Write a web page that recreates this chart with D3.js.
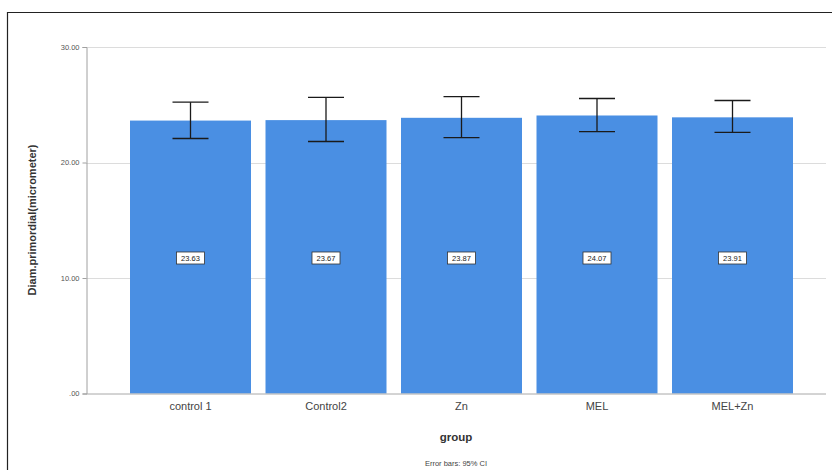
<!DOCTYPE html>
<html>
<head>
<meta charset="utf-8">
<script src="https://cdn.jsdelivr.net/npm/d3@7"></script>
<style>
  html, body { margin: 0; padding: 0; background: #fff; }
  svg { display: block; }
</style>
</head>
<body>
<svg id="chart" width="832" height="470"></svg>
<script>
// Group means of primordial follicle diameter with 95% CI error bars
const categories = ["control 1", "Control2", "Zn", "MEL", "MEL+Zn"];
const means      = [23.63, 23.67, 23.87, 24.07, 23.91];
const ciLower    = [22.08, 21.82, 22.16, 22.68, 22.60];
const ciUpper    = [25.22, 25.63, 25.70, 25.54, 25.37];
const yTicks     = [0, 10, 20, 30];
const yTickLabels = [".00", "10.00", "20.00", "30.00"];

const svg = d3.select("#chart");
const W = 832, H = 470;

// outer frame (left and top edges visible)
svg.append("path")
  .attr("d", "M7.5,470 L7.5,12.5 L832,12.5")
  .attr("fill", "none").attr("stroke", "#222").attr("stroke-width", 1.2);

const plotLeft = 86, plotRight = 826;
const y = d3.scaleLinear().domain([0, 30]).range([393.5, 47]);
const x = d3.scaleBand().domain(categories)
  .range([122.75, 800.25]).paddingInner(0.107).paddingOuter(0.0535);

// gridlines
svg.append("g").selectAll("line").data(yTicks.filter(d => d > 0)).join("line")
  .attr("x1", plotLeft).attr("x2", plotRight)
  .attr("y1", d => Math.round(y(d)) + 0.5).attr("y2", d => Math.round(y(d)) + 0.5)
  .attr("stroke", "#dcdcdc").attr("stroke-width", 1);

// y axis
const yAxis = d3.axisLeft(y).tickValues(yTicks)
  .tickFormat((d, i) => yTickLabels[i]).tickSize(4).tickPadding(3);
const gy = svg.append("g").attr("transform", `translate(${plotLeft + 0.5},0)`).call(yAxis);
gy.select(".domain").attr("stroke", "#a0a0a0");
gy.selectAll(".tick line").attr("stroke", "#a0a0a0");
gy.selectAll(".tick text").attr("font-family", "Liberation Sans, Arial, sans-serif")
  .attr("font-size", 7.5).attr("fill", "#555");

// bars
svg.append("g").selectAll("rect").data(categories).join("rect")
  .attr("x", d => x(d)).attr("width", x.bandwidth())
  .attr("y", (d, i) => y(means[i]))
  .attr("height", (d, i) => y(0) - y(means[i]))
  .attr("fill", "#4a8fe3");

// x axis baseline
const xAxis = d3.axisBottom(x).tickSize(0).tickPadding(9);
const gx = svg.append("g").attr("transform", `translate(0,${y(0)})`).call(xAxis);
gx.select(".domain").remove();
svg.append("line").attr("x1", plotLeft).attr("x2", plotRight)
  .attr("y1", y(0) + 0.5).attr("y2", y(0) + 0.5)
  .attr("stroke", "#a8a8a8");
gx.selectAll(".tick text").attr("font-family", "Liberation Sans, Arial, sans-serif")
  .attr("font-size", 11).attr("fill", "#444");

// error bars
const eb = svg.append("g").attr("stroke", "#1a1a1a").attr("stroke-width", 1.3);
categories.forEach((c, i) => {
  const cx = x(c) + x.bandwidth() / 2;
  eb.append("line").attr("x1", cx).attr("x2", cx)
    .attr("y1", y(ciUpper[i])).attr("y2", y(ciLower[i]));
  [ciUpper[i], ciLower[i]].forEach(v => {
    eb.append("line").attr("x1", cx - 18).attr("x2", cx + 18)
      .attr("y1", y(v)).attr("y2", y(v));
  });
});

// value labels
const lab = svg.append("g");
categories.forEach((c, i) => {
  const cx = x(c) + x.bandwidth() / 2;
  const cy = 258;
  lab.append("rect").attr("x", cx - 14).attr("y", cy - 6).attr("width", 28).attr("height", 12)
    .attr("fill", "#fff").attr("stroke", "#333").attr("stroke-width", 0.8);
  lab.append("text").attr("x", cx).attr("y", cy + 2.5).attr("text-anchor", "middle")
    .attr("font-family", "Liberation Sans, Arial, sans-serif").attr("font-size", 7.5)
    .attr("fill", "#222").text(means[i].toFixed(2));
});

// axis titles
svg.append("text")
  .attr("transform", "translate(36,220) rotate(-90)")
  .attr("text-anchor", "middle")
  .attr("font-family", "Liberation Sans, Arial, sans-serif").attr("font-size", 11)
  .attr("font-weight", "bold").attr("fill", "#333")
  .text("Diam.primordial(micrometer)");

svg.append("text").attr("x", 456).attr("y", 441).attr("text-anchor", "middle")
  .attr("font-family", "Liberation Sans, Arial, sans-serif").attr("font-size", 11.5)
  .attr("font-weight", "bold").attr("fill", "#333").text("group");

svg.append("text").attr("x", 456).attr("y", 466).attr("text-anchor", "middle")
  .attr("font-family", "Liberation Sans, Arial, sans-serif").attr("font-size", 7.5)
  .attr("fill", "#444").text("Error bars: 95% CI");
</script>
</body>
</html>
